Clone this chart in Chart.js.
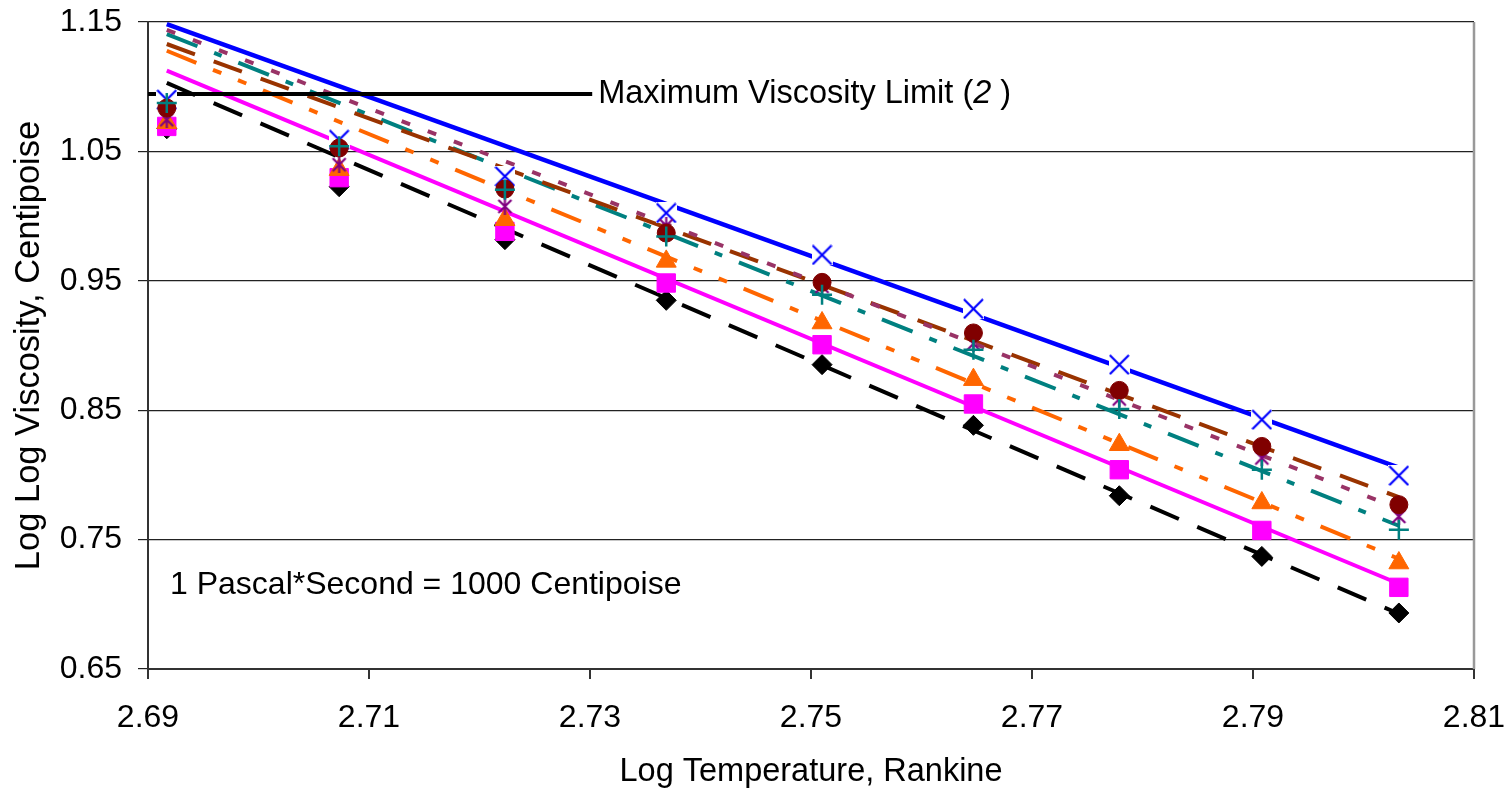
<!DOCTYPE html>
<html><head><meta charset="utf-8">
<script src="https://cdn.jsdelivr.net/npm/chart.js@4.4.1/dist/chart.umd.min.js"></script>
<style>html,body{margin:0;padding:0;background:#fff;}#wrap{width:1512px;height:796px;}</style>
</head><body><div id="wrap"><canvas id="c" width="1512" height="796"></canvas></div>
<script>
// ---- data ----
const logTempRankine = [2.6917, 2.7073, 2.7223, 2.7369, 2.7510, 2.7647, 2.7779, 2.7908, 2.8032];
const seriesX        = [1.0900, 1.0590, 1.0307, 1.0024, 0.9700, 0.9284, 0.8852, 0.8427, 0.7994];
const seriesCircle   = [1.0835, 1.0526, 1.0209, 0.9869, 0.9488, 0.9097, 0.8653, 0.8220, 0.7770];
const seriesStar     = [1.0745, 1.0397, 1.0075, 0.9926, 0.9457, 0.9014, 0.8587, 0.8131, 0.7679];
const seriesPlus     = [1.0874, 1.0539, 1.0204, 0.9843, 0.9393, 0.8968, 0.8509, 0.8040, 0.7577];
const seriesTriangle = [1.0722, 1.0359, 0.9972, 0.9650, 0.9174, 0.8736, 0.8233, 0.7783, 0.7319];
const seriesSquare   = [1.0693, 1.0297, 0.9882, 0.9483, 0.9006, 0.8548, 0.8040, 0.7571, 0.7131];
const seriesDiamond  = [1.0675, 1.0227, 0.9818, 0.9349, 0.8852, 0.8383, 0.7839, 0.7370, 0.6933];

const lineX        = [2.6917, 2.8032];
const lineBlue     = [1.1483, 0.8056];
const lineBrown    = [1.1330, 0.7828];
const linePlum     = [1.1440, 0.7739];
const lineTeal     = [1.1407, 0.7607];
const lineOrange   = [1.1278, 0.7352];
const lineMagenta  = [1.1124, 0.7159];
const lineBlack    = [1.1029, 0.6927];

const maxViscX = [2.69, 2.7302];
const maxViscY = [1.0944, 1.0944];

const xTicks = [2.69, 2.71, 2.73, 2.75, 2.77, 2.79, 2.81];
const yTicks = [0.65, 0.75, 0.85, 0.95, 1.05, 1.15];

const maxViscLabel = ['Maximum Viscosity Limit (', '2', ' )'];
const noteLabel = '1 Pascal*Second = 1000 Centipoise';
const xTitle = 'Log Temperature, Rankine';
const yTitle = 'Log Log Viscosity, Centipoise';

// ---- helpers ----
function pts(xs, ys) { return xs.map((x, i) => ({ x: x, y: ys[i] })); }
const FONT = "'Liberation Sans', Arial, sans-serif";

function xMarker(size, color) {
  const c = document.createElement('canvas'); c.width = size; c.height = size;
  const g = c.getContext('2d');
  g.fillStyle = '#fff'; g.fillRect(0, 0, size, size);
  g.strokeStyle = color; g.lineWidth = 2.2;
  g.beginPath(); g.moveTo(1, 1); g.lineTo(size - 1, size - 1);
  g.moveTo(size - 1, 1); g.lineTo(1, size - 1); g.stroke();
  return c;
}
function starMarker(size, color) {
  const c = document.createElement('canvas'); c.width = size; c.height = size;
  const g = c.getContext('2d');
  g.strokeStyle = color; g.lineWidth = 2.2;
  const m = size / 2;
  g.beginPath();
  g.moveTo(m, 0); g.lineTo(m, size);
  g.moveTo(2, 2); g.lineTo(size - 2, size - 2);
  g.moveTo(size - 2, 2); g.lineTo(2, size - 2);
  g.stroke();
  return c;
}

function trend(ys, color, dash, order, width) {
  return { data: pts(lineX, ys), showLine: true, borderColor: color, borderWidth: width || 4,
           borderDash: dash, pointRadius: 0, order: order, borderCapStyle: 'butt', fill: false };
}
function markers(ys, style, radius, color, order, bw) {
  return { data: pts(logTempRankine, ys), showLine: false, pointStyle: style, pointRadius: radius,
           pointBackgroundColor: color, pointBorderColor: color, pointBorderWidth: bw || 1, order: order };
}

const decorations = {
  id: 'decorations',
  beforeDatasetsDraw(chart) {
    const a = chart.chartArea, g = chart.ctx;
    g.save(); g.strokeStyle = '#999'; g.lineWidth = 2.5;
    g.beginPath(); g.moveTo(a.right, a.top); g.lineTo(a.right, a.bottom); g.stroke();
    g.restore();
  },
  afterDatasetsDraw(chart) {
    const g = chart.ctx, xs = chart.scales.x, ys = chart.scales.y, a = chart.chartArea;
    g.save();
    g.fillStyle = '#000'; g.textBaseline = 'middle'; g.textAlign = 'left';
    let px = xs.getPixelForValue(maxViscX[1]) + 6;
    const py = ys.getPixelForValue(maxViscY[0]);
    g.font = '32.5px ' + FONT;
    g.fillText(maxViscLabel[0], px, py); px += g.measureText(maxViscLabel[0]).width;
    g.font = 'italic 32.5px ' + FONT;
    g.fillText(maxViscLabel[1], px, py); px += g.measureText(maxViscLabel[1]).width;
    g.font = '32.5px ' + FONT;
    g.fillText(maxViscLabel[2], px, py);
    g.font = '32px ' + FONT;
    g.fillText(noteLabel, a.left + 22, a.top + 563);
    g.restore();
  }
};

Chart.defaults.font.family = FONT;
Chart.defaults.font.size = 32;
Chart.defaults.color = '#000';

new Chart(document.getElementById('c'), {
  type: 'scatter',
  data: {
    datasets: [
      markers(seriesPlus, 'cross', 10, '#008080', 0, 2.5),
      markers(seriesCircle, 'circle', 9, '#800000', 1),
      markers(seriesStar, starMarker(17, '#800080'), 8.5, '#800080', 2),
      markers(seriesX, xMarker(21, '#0000FF'), 10.5, '#0000FF', 3),
      markers(seriesTriangle, 'triangle', 11.5, '#FF6600', 4),
      markers(seriesSquare, 'rect', 13, '#FF00FF', 5),
      markers(seriesDiamond, 'rectRot', 10, '#000000', 6),
      { data: pts(maxViscX, maxViscY), showLine: true, borderColor: '#000', borderWidth: 4,
        pointRadius: 0, order: 8 },
      trend(lineBlue, '#0000FF', [], 10, 4.5),
      trend(lineMagenta, '#FF00FF', [], 11),
      trend(linePlum, '#993366', [9, 19], 12),
      trend(lineBrown, '#993300', [30, 20], 13),
      trend(lineTeal, '#008080', [33, 18, 8, 18], 14),
      trend(lineOrange, '#FF6600', [32, 18, 9, 18, 9, 18], 15),
      trend(lineBlack, '#000000', [31, 20], 16)
    ]
  },
  options: {
    responsive: false, animation: false, events: [],
    layout: { padding: { left: 0, top: 22, right: 38, bottom: 0 } },
    plugins: { legend: { display: false }, tooltip: { enabled: false } },
    scales: {
      x: {
        type: 'linear', position: 'bottom', min: 2.69, max: 2.81,
        afterBuildTicks: s => { s.ticks = xTicks.map(v => ({ value: v })); },
        afterFit: s => { s.height = 127; s.paddingLeft = 0; s.paddingRight = 0; },
        grid: { drawOnChartArea: false, drawTicks: true, tickLength: 10, color: '#333', lineWidth: 2 },
        border: { display: true, color: '#333', width: 2 },
        ticks: { padding: 20, maxRotation: 0, autoSkip: false, callback: v => v.toFixed(2), font: { size: 32 } },
        title: { display: true, text: xTitle, font: { size: 32.5 }, padding: { top: 0, bottom: 4 } }
      },
      y: {
        type: 'linear', position: 'left', min: 0.65, max: 1.15,
        afterBuildTicks: s => { s.ticks = yTicks.map(v => ({ value: v })); },
        afterFit: s => { s.width = 148; s.paddingTop = 0; s.paddingBottom = 0; },
        grid: { drawOnChartArea: true, drawTicks: true, tickLength: 10, color: '#222', lineWidth: 1.2 },
        border: { display: true, color: '#333', width: 2 },
        ticks: { padding: 16, autoSkip: false, callback: v => v.toFixed(2), font: { size: 32 } },
        title: { display: true, text: yTitle, font: { size: 34.5 }, padding: { top: 9, bottom: 0 } }
      }
    }
  },
  plugins: [decorations]
});
</script>
</body></html>
